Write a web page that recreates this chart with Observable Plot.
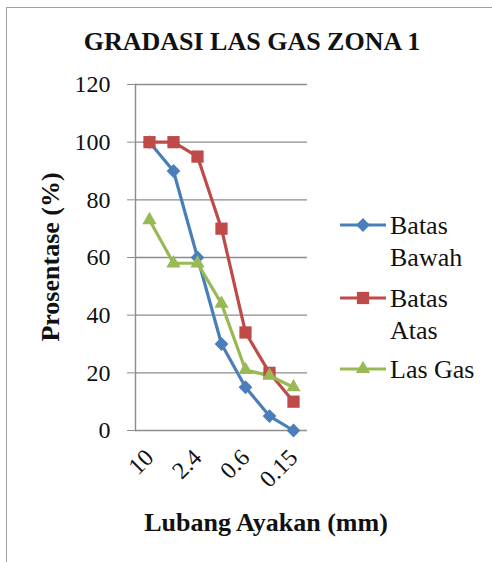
<!DOCTYPE html>
<html><head><meta charset="utf-8">
<script src="https://cdn.jsdelivr.net/npm/d3@7"></script>
<script src="https://cdn.jsdelivr.net/npm/@observablehq/plot@0.6"></script>
<style>
body{margin:0;background:#fff;}
#wrap{position:relative;width:492px;height:562px;overflow:hidden;}
#border{position:absolute;left:6px;top:7px;width:600px;height:600px;border-left:1.5px solid #a0a0a0;border-top:1.5px solid #a0a0a0;pointer-events:none;}
</style></head>
<body><div id="wrap"><div id="border"></div></div>
<script>
const FONT = "'Liberation Serif', 'Times New Roman', 'DejaVu Serif', serif";
const title = "GRADASI LAS GAS ZONA 1";
const xTitle = "Lubang Ayakan (mm)";
const yTitle = "Prosentase (%)";
const sieves = ["10","4.8","2.4","1.2","0.6","0.3","0.15"];
const xTickLabels = ["10","2.4","0.6","0.15"];
const yTicks = [0,20,40,60,80,100,120];
const batasBawah = [100,90,60,30,15,5,0];
const batasAtas = [100,100,95,70,34,20,10];
const lasGas = [73,58,58,44,21,19,15];
const seriesNames = ["Batas Bawah","Batas Atas","Las Gas"];
const seriesLegend = [["Batas","Bawah"],["Batas","Atas"],["Las Gas"]];
const colors = ["#4A7EBB","#BE4B48","#98B954"];
const symbols = ["diamond2","square2","triangle2"];
const radii = [6.2,7.8,6.8];

const seriesValues = [batasBawah, batasAtas, lasGas];
const data = seriesNames.flatMap((s,i)=>sieves.map((x,j)=>({series:s, x, y: seriesValues[i][j]})));

const marks = [
  Plot.ruleY(yTicks, {stroke:"#8c8c8c", strokeWidth:1.4}),
  Plot.frame({anchor:"left", stroke:"#8c8c8c", strokeWidth:1.4}),
  Plot.axisY({ticks:yTicks, tickSize:8, tickPadding:17, fontSize:24, stroke:"#8c8c8c", label:null, fill:"#111"}),
  Plot.axisX({ticks:xTickLabels, tickSize:0, tickPadding:23, tickRotate:-45, fontSize:24, label:null, fill:"#111"})
];
seriesNames.forEach((s,i)=>{
  const d = data.filter(r=>r.series===s);
  marks.push(Plot.line(d, {x:"x", y:"y", stroke:colors[i], strokeWidth:3.2}));
});
seriesNames.forEach((s,i)=>{
  const d = data.filter(r=>r.series===s);
  marks.push(Plot.dot(d, {x:"x", y:"y", fill:colors[i], symbol:symbols[i], r:radii[i], stroke:"none"}));
});

const chart = Plot.plot({
  width:492, height:562,
  marginLeft:135, marginRight:185, marginTop:84, marginBottom:132,
  style:{background:"transparent"},
  x:{type:"point", domain:sieves, padding:0.5},
  y:{domain:[0,120]},
  marks
});
document.getElementById("wrap").prepend(chart);

const svg = d3.select(chart);
svg.append("text").attr("x",252).attr("y",50).attr("text-anchor","middle")
  .attr("font-size",26).attr("font-weight","bold").attr("fill","#111").text(title);
svg.append("text").attr("transform","translate(59,257) rotate(-90)").attr("text-anchor","middle")
  .attr("font-size",26).attr("font-weight","bold").attr("fill","#111").text(yTitle);
svg.append("text").attr("x",266).attr("y",531).attr("text-anchor","middle")
  .attr("font-size",26).attr("font-weight","bold").attr("fill","#111").text(xTitle);

const legendY = [225,298,369];
const symMap = {diamond2:d3.symbolDiamond2, square2:d3.symbolSquare2, triangle2:d3.symbolTriangle2};
seriesNames.forEach((s,i)=>{
  const g = svg.append("g").attr("transform",`translate(0,${legendY[i]})`);
  g.append("line").attr("x1",340).attr("x2",386).attr("y1",0).attr("y2",0).attr("stroke",colors[i]).attr("stroke-width",3.2);
  g.append("path").attr("transform","translate(363,0)").attr("fill",colors[i])
    .attr("d", d3.symbol(symMap[symbols[i]], radii[i]*radii[i]*Math.PI)());
  seriesLegend[i].forEach((t,k)=>{
    g.append("text").attr("x",390).attr("y",8.5+k*32).attr("text-anchor","start").attr("font-size",26).attr("fill","#111").text(t);
  });
});
svg.attr("font-family", FONT).style("font-family", FONT);
svg.selectAll("text").style("font-family", FONT);
</script></body></html>
